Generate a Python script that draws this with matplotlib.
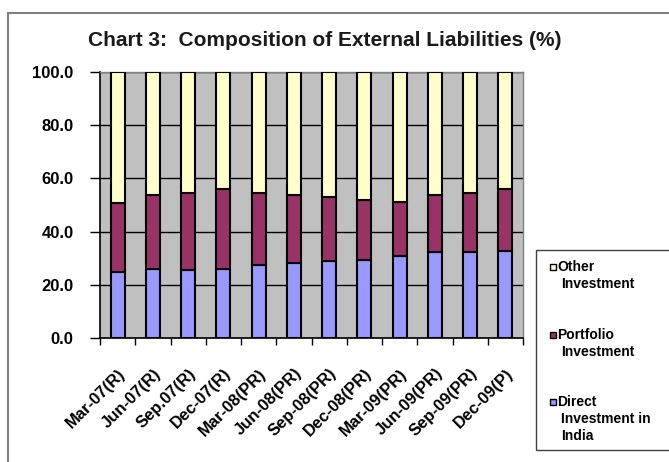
import numpy as np
import matplotlib
matplotlib.use('Agg')
import matplotlib.pyplot as plt
from matplotlib.patches import Rectangle

# quarterly shares of external liabilities (%)
quarters = ['Mar-07(R)', 'Jun-07(R)', 'Sep.07(R)', 'Dec-07(R)', 'Mar-08(PR)',
            'Jun-08(PR)', 'Sep-08(PR)', 'Dec-08(PR)', 'Mar-09(PR)', 'Jun-09(PR)',
            'Sep-09(PR)', 'Dec-09(P)']
direct = [24.9, 25.9, 25.4, 25.9, 27.3, 28.3, 29.1, 29.4, 30.7, 32.3, 32.3, 32.7]
portfolio = [25.8, 27.7, 29.1, 30.0, 27.1, 25.3, 24.0, 22.4, 20.3, 21.6, 22.2, 23.3]
other = [100 - d - p for d, p in zip(direct, portfolio)]

series_names = ['Other\nInvestment', 'Portfolio\nInvestment', 'Direct\nInvestment in\nIndia']
colors = {'direct': '#9999ff', 'portfolio': '#993366', 'other': '#ffffcc'}

plt.rcParams['font.family'] = ['Liberation Sans', 'DejaVu Sans']

fig = plt.figure(figsize=(6.69, 4.62), dpi=100)
W, H = 669.0, 462.0
ax = fig.add_axes([100/W, 1 - 338/H, (523 - 100)/W, (338 - 72)/H])
ax.set_facecolor('#c0c0c0')

x = np.arange(len(quarters))
bw = 0.4
kw = dict(width=bw, edgecolor='black', linewidth=1.5, zorder=3)
ax.bar(x, direct, color=colors['direct'], **kw)
ax.bar(x, portfolio, bottom=direct, color=colors['portfolio'], **kw)
ax.bar(x, other, bottom=np.add(direct, portfolio), color=colors['other'], **kw)

ax.set_xlim(-0.5, len(quarters) - 0.5)
ax.set_ylim(0, 100)
ax.set_yticks(np.arange(0, 101, 20))
ax.set_yticklabels(['%.1f' % v for v in np.arange(0, 101, 20)],
                   fontsize=12, fontweight='bold')
ax.yaxis.grid(True, color='black', linewidth=1, zorder=1)
ax.set_axisbelow(True)
ax.tick_params(axis='y', direction='out', length=7, width=1, pad=12)

# labels at category centres, tick marks on the boundaries
ax.set_xticks(x)
ax.set_xticklabels(quarters, rotation=45, ha='right', rotation_mode='anchor',
                   fontsize=12, fontweight='bold')
ax.tick_params(axis='x', which='major', length=0, pad=20)
ax.set_xticks(np.arange(-0.5, len(quarters), 1), minor=True)
ax.tick_params(axis='x', which='minor', direction='out', length=5, width=1)

for s in ['left', 'bottom']:
    ax.spines[s].set_color('black')
    ax.spines[s].set_linewidth(1.2)
for s in ['top', 'right']:
    ax.spines[s].set_color('#808080')
    ax.spines[s].set_linewidth(1)

fig.text(325/W, 1 - 46/H, 'Chart 3:  Composition of External Liabilities (%)',
         ha='center', va='baseline', fontsize=15, fontweight='bold', color='#1a1a1a')

# outer chart frame
fig.patches.append(Rectangle((8/W, -0.2), 1.2, 1 - 13/H + 0.2, transform=fig.transFigure,
                             fill=False, edgecolor='#808080', linewidth=1.5))

# legend box
fig.patches.append(Rectangle((536/W, 1 - 450/H), 1.0, 200/H, transform=fig.transFigure,
                             facecolor='white', edgecolor='#404040', linewidth=1))
legend_rows = [(series_names[0], colors['other'], 267),
               (series_names[1], colors['portfolio'], 335),
               (series_names[2], colors['direct'], 402)]
for label, c, ypix in legend_rows:
    fig.patches.append(Rectangle((550/W, 1 - (ypix + 3)/H), 6/W, 6/H,
                                 transform=fig.transFigure, facecolor=c,
                                 edgecolor='black', linewidth=1))
    lines = label.split('\n')
    fig.text(557/W, 1 - ypix/H, lines[0], ha='left', va='center',
             fontsize=10, fontweight='bold')
    for i, ln in enumerate(lines[1:]):
        fig.text(561/W, 1 - (ypix + 17*(i + 1))/H, ln, ha='left', va='center',
                 fontsize=10, fontweight='bold')

fig.savefig('out.png', dpi=100, facecolor='white')
